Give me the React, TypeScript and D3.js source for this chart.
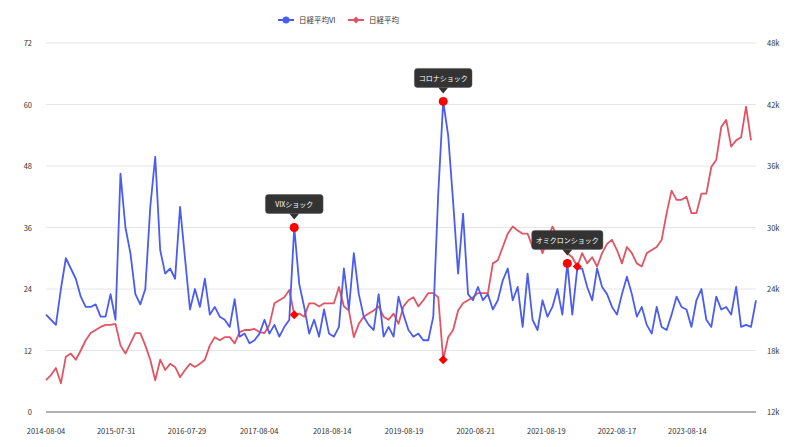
import * as d3 from "d3";

// 日経平均VI, sampled evenly from 2014-08-04 to 2024-08-01
const vi = [
  19, 18, 17, 24, 30, 28, 26, 22.5, 20.5, 20.5, 21, 18.6, 18.6, 23, 18, 46.5, 36, 31, 23, 21,
  24, 40, 49.8, 31.6, 27, 28, 26, 40, 30, 20, 24, 20.5, 26, 19, 20.5, 18.6, 18, 16.6, 22, 14.7,
  15.3, 13.4, 14, 15.3, 18, 15.3, 17, 14.7, 16.6, 18, 36, 25, 20.5, 15.3, 18, 14.7, 20, 15.3, 14.7, 16.6,
  28, 20, 31, 23, 18.6, 17, 16, 23, 14.7, 16.6, 14.7, 22.5, 19, 16, 14.7, 15.3, 14, 14, 18.6, 42.6,
  60.6, 54, 41, 27, 38.7, 23, 21.8, 24.4, 21.8, 23, 20, 21.8, 25.7, 28, 21.8, 24.4, 16.6, 27, 18, 16,
  21.8, 18.6, 20.5, 24, 19, 29, 19, 28, 28, 24.4, 21.8, 28, 24.4, 23, 20.5, 19, 23, 26.4, 23, 18.6,
  20.5, 17, 15.3, 20.5, 16.6, 16, 19, 22.5, 20.5, 20, 16.6, 21.8, 24, 18, 16.6, 22.5, 20, 20.5, 19, 24.4,
  16.6, 17, 16.6, 21.8,
];

// 日経平均 (thousand yen)
const nikkei = [
  15.1, 15.6, 16.3, 14.8, 17.4, 17.7, 17.1, 18.0, 19.0, 19.7, 20.0, 20.3, 20.5, 20.5, 20.6, 18.5, 17.7, 18.7, 19.7, 19.7,
  18.5, 17.1, 15.1, 17.1, 16.1, 16.7, 16.4, 15.4, 16.1, 16.7, 16.4, 16.7, 17.1, 18.5, 19.3, 19.0, 19.3, 19.3, 18.7, 19.8,
  20, 20, 20.1, 19.8, 19.7, 20.5, 22.6, 22.9, 23.2, 23.9, 21.5, 21.6, 21.3, 22.6, 22.6, 22.3, 22.6, 22.6, 22.6, 24.2,
  22.3, 21.9, 19.3, 20.6, 21.3, 21.6, 21.9, 22.3, 21.3, 21, 21.6, 20.6, 22.3, 22.9, 23.2, 22.3, 22.9, 23.6, 23.6, 23.2,
  17.1, 19.3, 20, 21.9, 22.6, 22.9, 23.2, 23.6, 23.6, 23.6, 26.5, 26.8, 28.1, 29.4, 30.1, 29.7, 29.4, 29.4, 28.1, 28.8,
  27.5, 28.8, 30.1, 29.1, 28.1, 27.5, 27.1, 26.2, 27.5, 26.5, 27.1, 26.2, 27.5, 28.4, 28.8, 27.8, 26.5, 28.1, 27.5, 26.5,
  26.2, 27.5, 27.8, 28.1, 28.8, 31.4, 33.6, 32.7, 32.7, 33, 31.4, 31.4, 33.3, 33.3, 35.9, 36.6, 39.8, 40.5, 37.9, 38.5,
  38.8, 41.8, 38.5,
];

const tickDates = [
  "2014-08-04", "2015-07-31", "2016-07-29", "2017-08-04", "2018-08-14",
  "2019-08-19", "2020-08-21", "2021-08-19", "2022-08-17", "2023-08-14",
];

const viTicks = [0, 12, 24, 36, 48, 60, 72];
const nikkeiTicks = [12, 18, 24, 30, 36, 42, 48];

const events = [
  { name: "VIXショック", vi: 50, nk: 50 },
  { name: "コロナショック", vi: 80, nk: 80 },
  { name: "オミクロンショック", vi: 105, nk: 107 },
];

const BLUE = "#4b5cf0";
const RED = "#e05563";
const FONT = "'Noto Sans CJK JP', 'Noto Sans', sans-serif";

export default function App() {
  const width = 803;
  const height = 447;
  const left = 46;
  const right = 756;
  const top = 43;
  const bottom = 412;

  const start = new Date(2014, 7, 4);
  const end = new Date(2024, 7, 1);
  const xTime = d3.scaleTime().domain([start, end]).range([left, right]);
  const xi = d3.scaleLinear().domain([0, vi.length - 1]).range([left, right]);
  const yL = d3.scaleLinear().domain([0, 72]).range([bottom, top]);
  const yR = d3.scaleLinear().domain([12, 48]).range([bottom, top]);

  const viLine = d3.line<number>().x((_, i) => xi(i)).y((d) => yL(d));
  const nkLine = d3.line<number>().x((_, i) => xi(i)).y((d) => yR(d));
  const parse = d3.timeParse("%Y-%m-%d");

  return (
    <svg width={width} height={height} style={{ position: "absolute", left: 0, top: 0 }} fontFamily={FONT}>
      <rect width={width} height={height} fill="#fff" />
      {viTicks.map((t) => (
        <g key={t}>
          {t > 0 && <line x1={left} x2={right} y1={yL(t)} y2={yL(t)} stroke="#e6e6e6" strokeWidth={1} />}
          <text x={32} y={yL(t) + 3} textAnchor="end" fontSize={7.5} fill="#333">{t}</text>
        </g>
      ))}
      {nikkeiTicks.map((t) => (
        <text key={t} x={767} y={yR(t) + 3} fontSize={7.5} fill="#333">{t}k</text>
      ))}
      <line x1={left} x2={right} y1={bottom} y2={bottom} stroke="#999" strokeWidth={1.5} />
      {tickDates.map((d) => (
        <text key={d} x={xTime(parse(d)!)} y={434} textAnchor="middle" fontSize={7.5} fill="#333">{d}</text>
      ))}

      <path d={nkLine(nikkei)!} fill="none" stroke={RED} strokeWidth={1.8} strokeLinejoin="round" />
      <path d={viLine(vi)!} fill="none" stroke={BLUE} strokeWidth={1.8} strokeLinejoin="round" />

      {events.map((e) => {
        const cx = xi(e.vi);
        const cy = yL(vi[e.vi]);
        const dx = xi(e.nk);
        const dy = yR(nikkei[e.nk]);
        const w = e.name.length * 6.8 + 10;
        return (
          <g key={e.name}>
            <path d={`M${dx},${dy - 4.5}L${dx + 4.5},${dy}L${dx},${dy + 4.5}L${dx - 4.5},${dy}Z`} fill="#f00" />
            <circle cx={cx} cy={cy} r={4.5} fill="#f00" />
            <g transform={`translate(${cx},${cy - 8})`}>
              <rect x={-w / 2} y={-25} width={w} height={19} rx={3} fill="#333" stroke="#555" strokeWidth={0.5} />
              <path d="M-5,-6L0,0L5,-6Z" fill="#333" />
              <text x={0} y={-12.5} textAnchor="middle" fontSize={7} fill="#fff">{e.name}</text>
            </g>
          </g>
        );
      })}

      <g transform="translate(278,20)">
        <line x1={0} x2={16} y1={0} y2={0} stroke={BLUE} strokeWidth={2} />
        <circle cx={8} cy={0} r={3.5} fill={BLUE} />
        <text x={21} y={3} fontSize={7.5} fill="#333">日経平均VI</text>
      </g>
      <g transform="translate(348,20)">
        <line x1={0} x2={16} y1={0} y2={0} stroke={RED} strokeWidth={2} />
        <path d="M8,-3.5L11.5,0L8,3.5L4.5,0Z" fill={RED} />
        <text x={21} y={3} fontSize={7.5} fill="#333">日経平均</text>
      </g>
    </svg>
  );
}
